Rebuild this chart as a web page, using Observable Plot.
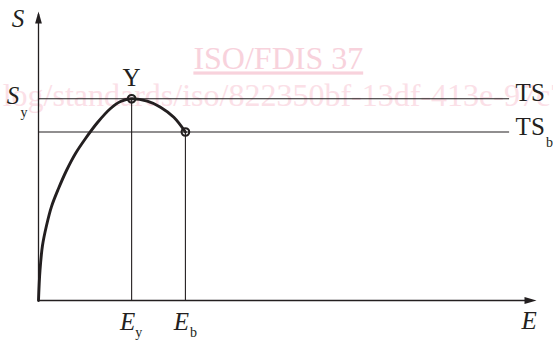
<!DOCTYPE html>
<html>
<head>
<meta charset="utf-8">
<script src="https://cdn.jsdelivr.net/npm/d3@7"></script>
<script src="https://cdn.jsdelivr.net/npm/@observablehq/plot@0.6"></script>
<style>
  html, body { margin: 0; padding: 0; background: #fff; }
  #chart svg { display: block; }
</style>
</head>
<body>
<div id="chart"></div>
<script>
// Stress–strain curve (arbitrary units: both axes 0..100, arrow tips at 100)
const curveE = [0, 0.30, 0.80, 1.61, 2.61, 4.02, 5.62, 7.43, 9.44, 11.85, 14.46, 16.47, 18.7, 21.83, 24.5, 27.17, 29.5];
const curveS = [0, 10.4, 19.0, 25.95, 32.5, 38.75, 44.98, 50.87, 56.06, 61.59, 66.44, 68.86, 69.8, 68.96, 66.9, 63.4, 58.3];

// Key points: yield Y (Ey, Sy) and break (Eb, Sb)
const Ey = 18.7, Sy = 69.8;
const Eb = 29.5, Sb = 58.3;
const axisMax = 100;      // arrow tips
const levelLineEnd = 94.6; // end of TS / TS_b horizontal lines

// Watermark texts (from the source document image)
const wmTexts = ["ISO/FDIS 37", "log/standards/iso/822350bf-13df-413e-97c7-"];
const wmE = [31.1, -7.2];
const wmS = [83.5, 70.7];

const curve = curveE.map((e, i) => ({E: e, S: curveS[i]}));
const keyPts = [{E: Ey, S: Sy}, {E: Eb, S: Sb}];
const wm = wmTexts.map((t, i) => ({t, E: wmE[i], S: wmS[i]}));

const ink = "#231f20";
const serif = "'Liberation Serif', 'DejaVu Serif', serif";

// filled, elongated arrowhead with its tip at the anchor, pointing up
const arrowHead = {
  draw(ctx) {
    ctx.moveTo(0, 0);
    ctx.lineTo(3.4, 12);
    ctx.lineTo(-3.4, 12);
    ctx.closePath();
  }
};

const lab = (x, y, text, opts) =>
  Plot.text([{x, y}], {x: "x", y: "y", text: () => text, fill: ink, fontFamily: serif, lineAnchor: "middle", ...opts});

const svg = Plot.plot({
  width: 553,
  height: 343,
  x: {domain: [0, 100], range: [38, 536], axis: null},
  y: {domain: [0, 100], range: [300, 11], axis: null},
  style: {fontFamily: serif, background: "#fff", overflow: "visible"},
  marks: [
    // watermark
    Plot.text(wm.slice(0, 1), {x: "E", y: "S", text: "t", fill: "#f8d2dc", fontSize: 32, textAnchor: "start", lineAnchor: "middle", fontFamily: serif}),
    Plot.text(wm.slice(1), {x: "E", y: "S", text: "t", fill: "#fbe0e7", fontSize: 32, textAnchor: "start", lineAnchor: "middle", fontFamily: serif}),

    // axes
    Plot.ruleY([0], {x1: 0, x2: axisMax - 1, stroke: ink, strokeWidth: 1.3}),
    Plot.ruleX([0], {y1: 0, y2: axisMax - 1, stroke: ink, strokeWidth: 1.3}),
    Plot.dot([{E: 0, S: axisMax}], {x: "E", y: "S", symbol: arrowHead, fill: ink, stroke: null}),
    Plot.dot([{E: axisMax, S: 0}], {x: "E", y: "S", symbol: arrowHead, fill: ink, stroke: null, rotate: 90}),

    // TS and TS_b levels, and drop lines to E axis
    Plot.ruleY(keyPts, {y: "S", x1: 0, x2: levelLineEnd, stroke: ink, strokeWidth: 1.1}),
    Plot.ruleX(keyPts, {x: "E", y1: 0, y2: "S", stroke: ink, strokeWidth: 1.1}),

    // curve
    Plot.line(curve, {x: "E", y: "S", stroke: ink, strokeWidth: 2.9, curve: "catmull-rom"}),

    // yield and break markers
    Plot.dot(keyPts, {x: "E", y: "S", r: 3.8, stroke: ink, strokeWidth: 2.1, fill: "none"}),

    // labels
    lab(0, axisMax, "S", {fontSize: 25, fontStyle: "italic", dx: -20.5, dy: 7.3}),
    lab(0, Sy, "S", {fontSize: 25, fontStyle: "italic", dx: -25.5, dy: -2.7}),
    lab(0, Sy, "y", {fontSize: 14, dx: -14.5, dy: 13.5}),
    lab(Ey, Sy, "Y", {fontSize: 25, dy: -20.7}),
    lab(Ey, 0, "E", {fontSize: 25, fontStyle: "italic", dx: -4, dy: 21.3}),
    lab(Ey, 0, "y", {fontSize: 14, dx: 7, dy: 32.5}),
    lab(Eb, 0, "E", {fontSize: 25, fontStyle: "italic", dx: -4, dy: 21.3}),
    lab(Eb, 0, "b", {fontSize: 14, dx: 8, dy: 32.5}),
    lab(axisMax, 0, "E", {fontSize: 25, fontStyle: "italic", dx: -7.3, dy: 20.3}),
    lab(levelLineEnd, Sy, "TS", {fontSize: 25, textAnchor: "start", dx: 6, dy: -5.7}),
    lab(levelLineEnd, Sb, "TS", {fontSize: 25, textAnchor: "start", dx: 6, dy: -5.4}),
    lab(levelLineEnd, Sb, "b", {fontSize: 14, dx: 40, dy: 10.5})
  ]
});

d3.select(svg).selectAll("text")
  .filter(function () { return this.textContent === wmTexts[0]; })
  .attr("text-decoration", "underline");

document.getElementById("chart").appendChild(svg);
</script>
</body>
</html>
